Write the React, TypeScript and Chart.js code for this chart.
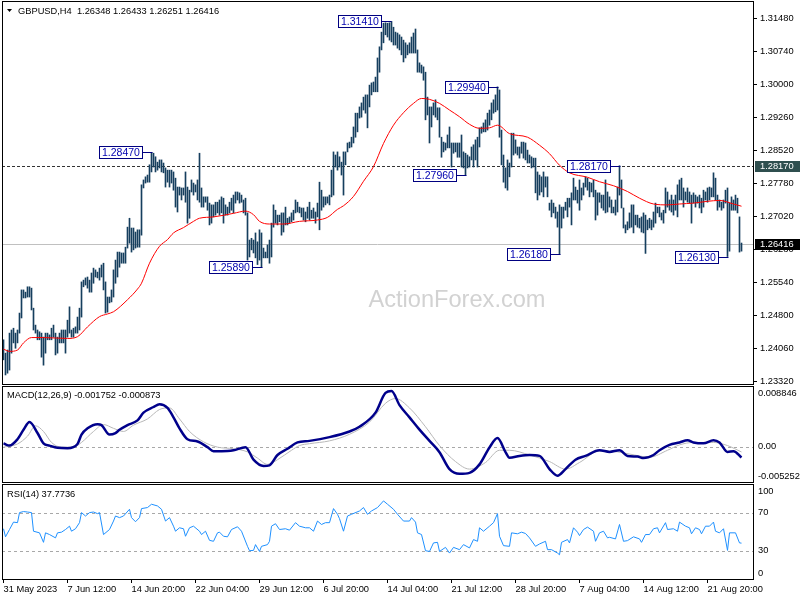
import React, { useEffect, useRef } from 'react';
import { Chart, registerables } from 'chart.js';

Chart.register(...registerables);

// ---------- DATA ----------
const SYMBOL_TITLE = 'GBPUSD,H4';
const LAST_OHLC = [1.26348, 1.26433, 1.26251, 1.26416];

const HIGHS = [
  1.2426, 1.2396, 1.2403, 1.2441, 1.2448, 1.2452, 1.2441, 1.2448, 1.2486, 1.2538,
  1.2538, 1.2533, 1.2545, 1.2545, 1.2542, 1.2497, 1.2459, 1.2448, 1.2444, 1.2441,
  1.2432, 1.2441, 1.2441, 1.2437, 1.2452, 1.2459, 1.2441, 1.2432, 1.2441, 1.2448,
  1.2448, 1.2448, 1.2470, 1.2500, 1.2448, 1.2452, 1.2455, 1.2477, 1.2497, 1.2556,
  1.2560, 1.2565, 1.2567, 1.2560, 1.2576, 1.2587, 1.2583, 1.2578, 1.2587, 1.2594,
  1.2598, 1.2556, 1.2522, 1.2522, 1.2538, 1.2583, 1.2605, 1.2623, 1.2623, 1.2621,
  1.2621, 1.2634, 1.2679, 1.2699, 1.2677, 1.2677, 1.2668, 1.2673, 1.2673, 1.2774,
  1.2785, 1.2792, 1.2796, 1.2819, 1.2847, 1.2845, 1.2837, 1.2825, 1.2830, 1.2830,
  1.2823, 1.2812, 1.2807, 1.2807, 1.2807, 1.2803, 1.2789, 1.2769, 1.2769, 1.2767,
  1.2767, 1.2803, 1.2769, 1.2762, 1.2785, 1.2778, 1.2774, 1.2785, 1.2845, 1.2767,
  1.2747, 1.2747, 1.2747, 1.2733, 1.2729, 1.2729, 1.2735, 1.2735, 1.2740, 1.2747,
  1.2744, 1.2729, 1.2724, 1.2735, 1.2744, 1.2751, 1.2758, 1.2758, 1.2756, 1.2751,
  1.2740, 1.2744, 1.2711, 1.2650, 1.2654, 1.2650, 1.2666, 1.2646, 1.2673, 1.2666,
  1.2632, 1.2623, 1.2639, 1.2650, 1.2688, 1.2729, 1.2717, 1.2706, 1.2706, 1.2711,
  1.2711, 1.2724, 1.2699, 1.2702, 1.2711, 1.2717, 1.2740, 1.2735, 1.2724, 1.2722,
  1.2722, 1.2713, 1.2724, 1.2735, 1.2717, 1.2722, 1.2713, 1.2733, 1.2780, 1.2762,
  1.2747, 1.2747, 1.2747, 1.2751, 1.2807, 1.2848, 1.2841, 1.2848, 1.2837, 1.2825,
  1.2848, 1.2848, 1.2868, 1.2870, 1.2881, 1.2904, 1.2935, 1.2935, 1.2949, 1.2958,
  1.2971, 1.2976, 1.2976, 1.2998, 1.3003, 1.3005, 1.3016, 1.3059, 1.3084, 1.3117,
  1.3137, 1.3138, 1.3137, 1.3138, 1.3141, 1.3128, 1.3117, 1.3115, 1.3111, 1.3106,
  1.3099, 1.3093, 1.3088, 1.3093, 1.3106, 1.3115, 1.3124, 1.3077, 1.3048, 1.3043,
  1.3039, 1.3027, 1.2971, 1.2949, 1.2949, 1.2958, 1.2965, 1.2947, 1.2947, 1.2881,
  1.2870, 1.2868, 1.2886, 1.2904, 1.2868, 1.2868, 1.2868, 1.2868, 1.2868, 1.2886,
  1.2848, 1.2845, 1.2841, 1.2837, 1.2859, 1.2864, 1.2875, 1.2881, 1.2902, 1.2904,
  1.2913, 1.2920, 1.2935, 1.2942, 1.2958, 1.2965, 1.2976, 1.2994, 1.2987, 1.2897,
  1.2841, 1.2812, 1.2830, 1.2823, 1.2890, 1.2890, 1.2875, 1.2859, 1.2859, 1.2870,
  1.2870, 1.2868, 1.2852, 1.2841, 1.2837, 1.2834, 1.2834, 1.2803, 1.2796, 1.2792,
  1.2803, 1.2792, 1.2792, 1.2733, 1.2740, 1.2733, 1.2724, 1.2713, 1.2729, 1.2724,
  1.2724, 1.2735, 1.2744, 1.2744, 1.2756, 1.2789, 1.2769, 1.2762, 1.2785, 1.2767,
  1.2778, 1.2792, 1.2789, 1.2780, 1.2778, 1.2785, 1.2762, 1.2756, 1.2756, 1.2751,
  1.2751, 1.2785, 1.2758, 1.2747, 1.2740, 1.2724, 1.2740, 1.2769, 1.2817, 1.2785,
  1.2722, 1.2684, 1.2691, 1.2711, 1.2729, 1.2729, 1.2706, 1.2706, 1.2699, 1.2702,
  1.2711, 1.2706, 1.2695, 1.2699, 1.2695, 1.2713, 1.2733, 1.2724, 1.2724, 1.2711,
  1.2717, 1.2767, 1.2758, 1.2740, 1.2751, 1.2740, 1.2751, 1.2774, 1.2785, 1.2789,
  1.2767, 1.2758, 1.2767, 1.2758, 1.2751, 1.2756, 1.2751, 1.2747, 1.2751, 1.2744,
  1.2762, 1.2758, 1.2767, 1.2769, 1.2767, 1.2801, 1.2789, 1.2751, 1.2740, 1.2735,
  1.2740, 1.2762, 1.2767, 1.2733, 1.2747, 1.2740, 1.2751, 1.2744, 1.2702, 1.26433,
];

const LOWS = [
  1.2381, 1.2347, 1.2351, 1.2358, 1.2396, 1.2419, 1.2407, 1.2419, 1.2441, 1.2475,
  1.2520, 1.2520, 1.2522, 1.2522, 1.2493, 1.2448, 1.2441, 1.2426, 1.2426, 1.2387,
  1.2369, 1.2396, 1.2426, 1.2426, 1.2426, 1.2432, 1.2392, 1.2396, 1.2419, 1.2419,
  1.2419, 1.2396, 1.2432, 1.2441, 1.2432, 1.2432, 1.2441, 1.2441, 1.2448, 1.2477,
  1.2545, 1.2549, 1.2542, 1.2533, 1.2533, 1.2553, 1.2567, 1.2565, 1.2560, 1.2567,
  1.2538, 1.2486, 1.2488, 1.2509, 1.2511, 1.2522, 1.2553, 1.2567, 1.2589, 1.2598,
  1.2598, 1.2598, 1.2632, 1.2643, 1.2623, 1.2628, 1.2632, 1.2634, 1.2634, 1.2661,
  1.2767, 1.2778, 1.2780, 1.2780, 1.2803, 1.2814, 1.2803, 1.2807, 1.2812, 1.2803,
  1.2801, 1.2769, 1.2780, 1.2769, 1.2778, 1.2762, 1.2724, 1.2713, 1.2751, 1.2740,
  1.2751, 1.2735, 1.2688, 1.2699, 1.2758, 1.2751, 1.2758, 1.2740, 1.2735, 1.2724,
  1.2724, 1.2735, 1.2717, 1.2684, 1.2688, 1.2702, 1.2706, 1.2711, 1.2706, 1.2711,
  1.2688, 1.2706, 1.2706, 1.2711, 1.2717, 1.2711, 1.2733, 1.2740, 1.2733, 1.2735,
  1.2711, 1.2706, 1.2605, 1.2612, 1.2628, 1.2621, 1.2610, 1.2595, 1.2605, 1.2589,
  1.2610, 1.2610, 1.2610, 1.2598, 1.2612, 1.2679, 1.2688, 1.2684, 1.2691, 1.2661,
  1.2668, 1.2684, 1.2684, 1.2688, 1.2691, 1.2695, 1.2711, 1.2713, 1.2711, 1.2702,
  1.2695, 1.2691, 1.2699, 1.2695, 1.2699, 1.2699, 1.2688, 1.2702, 1.2673, 1.2717,
  1.2724, 1.2729, 1.2733, 1.2729, 1.2747, 1.2751, 1.2814, 1.2807, 1.2814, 1.2796,
  1.2751, 1.2819, 1.2848, 1.2857, 1.2859, 1.2868, 1.2881, 1.2893, 1.2924, 1.2926,
  1.2942, 1.2935, 1.2902, 1.2949, 1.2976, 1.2983, 1.2983, 1.2983, 1.3027, 1.3077,
  1.3093, 1.3111, 1.3106, 1.3099, 1.3095, 1.3088, 1.3088, 1.3081, 1.3077, 1.3066,
  1.3050, 1.3059, 1.3066, 1.3070, 1.3070, 1.3070, 1.3070, 1.3027, 1.3027, 1.3025,
  1.3009, 1.2920, 1.2931, 1.2868, 1.2904, 1.2931, 1.2926, 1.2920, 1.2881, 1.2836,
  1.2848, 1.2852, 1.2857, 1.2857, 1.2814, 1.2845, 1.2848, 1.2836, 1.2836, 1.2814,
  1.2812, 1.2796, 1.2812, 1.2814, 1.2830, 1.2814, 1.2830, 1.2814, 1.2859, 1.2890,
  1.2893, 1.2893, 1.2897, 1.2908, 1.2920, 1.2935, 1.2938, 1.2942, 1.2881, 1.2819,
  1.2780, 1.2767, 1.2762, 1.2792, 1.2814, 1.2841, 1.2845, 1.2841, 1.2834, 1.2845,
  1.2834, 1.2830, 1.2823, 1.2823, 1.2812, 1.2814, 1.2756, 1.2740, 1.2751, 1.2758,
  1.2747, 1.2769, 1.2747, 1.2717, 1.2702, 1.2711, 1.2699, 1.2679, 1.2618, 1.2677,
  1.2699, 1.2717, 1.2702, 1.2724, 1.2684, 1.2740, 1.2740, 1.2733, 1.2717, 1.2740,
  1.2751, 1.2769, 1.2762, 1.2747, 1.2758, 1.2747, 1.2695, 1.2706, 1.2735, 1.2722,
  1.2717, 1.2711, 1.2713, 1.2724, 1.2711, 1.2711, 1.2706, 1.2713, 1.2751, 1.2722,
  1.2677, 1.2666, 1.2673, 1.2677, 1.2679, 1.2666, 1.2684, 1.2679, 1.2677, 1.2668,
  1.2666, 1.2620, 1.2673, 1.2677, 1.2673, 1.2679, 1.2688, 1.2711, 1.2702, 1.2695,
  1.2688, 1.2711, 1.2724, 1.2717, 1.2713, 1.2706, 1.2717, 1.2702, 1.2740, 1.2740,
  1.2724, 1.2740, 1.2735, 1.2733, 1.2688, 1.2733, 1.2724, 1.2733, 1.2722, 1.2711,
  1.2724, 1.2740, 1.2735, 1.2740, 1.2747, 1.2747, 1.2740, 1.2717, 1.2724, 1.2717,
  1.2722, 1.2733, 1.2613, 1.2625, 1.2717, 1.2717, 1.2717, 1.2711, 1.2623, 1.26251,
];

// Moving average
const MA_BARS = [0, 3, 7, 10, 14, 20, 32, 37, 42, 48, 52, 55, 62, 67, 69, 73, 78, 82, 85, 90,
  95, 98, 105, 115, 121, 125, 128, 133, 140, 148, 157, 162, 167, 170, 175, 180, 185, 190, 195, 200,
  205, 209, 213, 218, 223, 228, 233, 238, 243, 247, 253, 262, 268, 273, 278, 283, 292, 298, 305, 312,
  318, 325, 332, 338, 345, 352, 358, 365, 369];
const MA_VALUES = [1.2405, 1.2400, 1.2403, 1.2419, 1.2431, 1.2431, 1.2429, 1.2433, 1.2455, 1.2478,
  1.2484, 1.2489, 1.2516, 1.2540, 1.2553, 1.2598, 1.2636, 1.2651, 1.2666, 1.2678,
  1.2692, 1.2699, 1.2702, 1.2710, 1.2715, 1.2707, 1.2692, 1.2686, 1.2686, 1.2692,
  1.2695, 1.2701, 1.2719, 1.2727, 1.2748, 1.2782, 1.2815, 1.2867, 1.2908, 1.2936,
  1.2957, 1.2968, 1.2966, 1.2957, 1.2942, 1.2927, 1.2910, 1.2901, 1.2902, 1.2908,
  1.2889, 1.2881, 1.2863, 1.2844, 1.2818, 1.2801, 1.2791, 1.2781, 1.2772, 1.2759,
  1.2744, 1.2731, 1.2729, 1.2731, 1.2733, 1.2737, 1.2739, 1.2731, 1.2726];

// MACD(12,26,9)
const MACD_BARS = [0, 3, 7, 10, 13, 17, 20, 23, 27, 32, 37, 39, 42, 47, 49, 53, 56, 58, 62, 67,
  70, 75, 78, 82, 85, 88, 92, 97, 102, 105, 112, 115, 121, 125, 130, 133, 137, 142, 147, 153,
  163, 173, 178, 186, 191, 194, 198, 203, 208, 213, 218, 223, 228, 233, 238, 243, 247, 251, 253, 258,
  263, 268, 273, 277, 281, 286, 291, 298, 303, 308, 312, 317, 320, 325, 328, 333, 338, 342, 345, 350,
  355, 358, 362, 365, 369];
const MACD_VALUES = [0.00050, 0.00015, 0.00116, 0.00266, 0.00390, 0.00215, 0.00050, 0.00015, -0.00020, -0.00026,
  0.00041, 0.00191, 0.00290, 0.00356, 0.00341, 0.00191, 0.00215, 0.00266, 0.00341, 0.00416,
  0.00540, 0.00630, 0.00675, 0.00615, 0.00465, 0.00290, 0.00116, 0.00080, -0.00010, -0.00075,
  -0.00071, -0.00060, -0.00010, -0.00210, -0.00311, -0.00300, -0.00135, -0.00035, 0.00065, 0.00090,
  0.00150, 0.00240, 0.00315, 0.00540, 0.00855, 0.008846, 0.00660, 0.00465, 0.00270, 0.00090,
  -0.00090, -0.00360, -0.00435, -0.00420, -0.00285, -0.00015, 0.00135, -0.00090, -0.00180, -0.00150,
  -0.00135, -0.00150, -0.00360, -0.00465, -0.00360, -0.00210, -0.00150, -0.00060, -0.00086, -0.00060,
  -0.00150, -0.00161, -0.00185, -0.00135, -0.00060, 0.00026, 0.00065, 0.00101, 0.00065, 0.00050,
  0.00101, 0.00065, -0.00086, -0.00075, -0.001752];
const SIGNAL_BARS = [0, 7, 12, 16, 20, 24, 29, 35, 39, 45, 50, 55, 60, 65, 72, 78, 83, 88, 93, 100,
  107, 115, 122, 127, 132, 137, 144, 148, 153, 163, 173, 183, 191, 196, 203, 211, 218, 226, 233, 241,
  248, 253, 263, 273, 281, 288, 298, 307, 313, 323, 332, 338, 345, 355, 362, 369];
const SIGNAL_VALUES = [-0.00010, 0.00041, 0.00165, 0.00330, 0.00240, 0.00065, -0.00010, -0.00010, 0.00065, 0.00240,
  0.00350, 0.00290, 0.00240, 0.00341, 0.00440, 0.00590, 0.00615, 0.00440, 0.00240, 0.00075,
  -0.00010, -0.00035, -0.00086, -0.00185, -0.00285, -0.00210, -0.00060, 0.00015, 0.00045, 0.00090,
  0.00195, 0.00390, 0.00690, 0.00765, 0.00615, 0.00315, 0.00015, -0.00240, -0.00360, -0.00255,
  -0.00060, -0.00060, -0.00135, -0.00240, -0.00360, -0.00255, -0.00070, -0.00086, -0.00120, -0.00170,
  -0.00060, 0.00026, 0.00065, 0.00065, 0.00015, -0.000873];
const MACD_AXIS_MAX = 0.00965;
const MACD_AXIS_MIN = -0.00566;
const MACD_AXIS_VALUES = [0.008846, 0, -0.005252];
const MACD_AXIS_LABELS = ['0.008846', '0.00', '-0.005252'];

// RSI(14)
const RSI_BARS = [0, 1, 3, 5, 7, 8, 10, 12, 14, 15, 18, 20, 21, 23, 26, 27, 29, 31, 33, 34,
  36, 38, 39, 41, 43, 45, 47, 48, 50, 53, 55, 56, 58, 60, 63, 64, 66, 68, 69, 72,
  74, 77, 79, 81, 83, 85, 86, 88, 90, 91, 93, 95, 98, 99, 101, 103, 105, 107, 108, 110,
  112, 114, 117, 119, 122, 123, 125, 126, 128, 129, 132, 133, 134, 136, 138, 141, 143, 146, 148, 151,
  153, 155, 157, 159, 161, 163, 165, 167, 168, 170, 172, 174, 178, 180, 182, 184, 187, 190, 192, 195,
  197, 200, 203, 204, 206, 207, 209, 211, 213, 215, 217, 218, 221, 223, 225, 228, 230, 233, 235, 237,
  238, 240, 243, 245, 247, 248, 250, 253, 254, 257, 259, 261, 263, 266, 268, 271, 272, 274, 277, 278,
  279, 282, 283, 285, 287, 288, 290, 292, 295, 296, 298, 300, 302, 303, 306, 308, 310, 312, 315, 318,
  319, 321, 323, 325, 327, 328, 331, 332, 335, 337, 338, 341, 343, 344, 346, 348, 349, 351, 353, 355,
  356, 358, 360, 362, 363, 366, 368, 369];
const RSI_VALUES = [52.9, 44.4, 52.1, 59.9, 59.3, 69.9, 71, 70.5, 69.9, 50.3, 48.6, 38.6, 48.6, 46.8, 43.3, 48.6, 49.3, 52.1, 55.6, 50.3,
  52.9, 59.3, 69.9, 66.3, 69.9, 70.5, 68.8, 69.9, 46.8, 52.1, 61, 66.3, 64.6, 66.3, 73.4, 64.6, 60.3, 64.6, 74.1, 75.2,
  78.7, 76.9, 73.4, 61, 64.6, 55.6, 50.3, 53.9, 52.9, 45, 53.9, 55.6, 50.3, 46.8, 50.3, 40.7, 39.7, 48.6, 49.3, 45,
  44.4, 52.1, 55, 50.3, 34.4, 29.8, 30.1, 36.2, 29, 34.4, 36.2, 39.7, 55.6, 58.2, 52.1, 52.9, 51.4, 59.3, 55.6, 53.9,
  53.9, 50.3, 61, 57.4, 59.3, 59.3, 74.1, 68.1, 63.5, 50.3, 66.3, 68.1, 71.6, 75.2, 68.1, 71.6, 75.2, 82.2, 78.7, 73.4,
  68.1, 61, 61, 64.6, 59.9, 48.6, 46.8, 29.8, 29, 38, 38.6, 29, 33.3, 27.3, 33.3, 30.9, 36.2, 32.7, 41.5, 39.7,
  53.9, 50.3, 55.6, 59.3, 68.8, 45, 35.1, 34.4, 48.6, 47.6, 49.3, 47.9, 43.3, 34.4, 36.9, 39.7, 30.9, 30.9, 27.3, 25.5,
  38.6, 41.5, 38, 53.9, 49.3, 45.7, 52.1, 54.6, 50.3, 39.7, 48.6, 50.3, 43.3, 43.9, 42.2, 57.4, 39.7, 40.4, 44.4, 42.2,
  38.6, 46.8, 46.8, 52.9, 53.9, 48.6, 59.3, 52.1, 52.9, 50.3, 59.9, 55.6, 53.9, 47.6, 53.9, 52.1, 47.6, 55.6, 55.6, 59.9,
  50.3, 48.6, 52.9, 30.1, 48.6, 48.6, 38, 37.7736];
const RSI_LEVELS = [70, 30];
const RSI_AXIS_VALUES = [100, 70, 30, 0];

// Axis ticks
const PRICE_TICKS = [1.3148, 1.3074, 1.3, 1.2926, 1.2852, 1.2778, 1.2702, 1.2628, 1.2554, 1.248, 1.2406, 1.2332];
const PRICE_MIN = 1.23267;
const PRICE_MAX = 1.31869;
const X_TICK_BARS = [0, 32, 64, 96, 128, 160, 192, 224, 256, 288, 320, 352];
const X_TICK_LABELS = ['31 May 2023', '7 Jun 12:00', '14 Jun 20:00', '22 Jun 04:00', '29 Jun 12:00', '6 Jul 20:00',
  '14 Jul 04:00', '21 Jul 12:00', '28 Jul 20:00', '7 Aug 04:00', '14 Aug 12:00', '21 Aug 20:00'];

// Swing labels and levels
const SWING_BARS = [74, 129, 194, 231, 247, 278, 308, 362];
const SWING_PRICES = [1.2847, 1.2589, 1.3141, 1.2796, 1.2994, 1.2618, 1.2817, 1.2613];
const LEVEL_PRICE = 1.2817;
const BID_PRICE = 1.26416;

// ---------- STYLE ----------
const FONT = '"Liberation Sans", Arial, sans-serif';
const BAR_COLOR = '#163f5e';
const X_MIN = -0.75;
const X_MAX = 374.75;

function drawBorder(chart: any) {
  const { ctx, chartArea: a } = chart;
  ctx.save();
  ctx.strokeStyle = '#000';
  ctx.lineWidth = 1;
  ctx.setLineDash([]);
  ctx.strokeRect(a.left + 0.5, a.top + 0.5, a.right - a.left, a.bottom - a.top);
  ctx.restore();
}

function hLine(chart: any, value: number, color: string, dash: number[]) {
  const { ctx, chartArea: a, scales } = chart;
  const y = Math.round(scales.y.getPixelForValue(value)) + 0.5;
  ctx.save();
  ctx.strokeStyle = color;
  ctx.lineWidth = 1;
  ctx.setLineDash(dash);
  ctx.beginPath();
  ctx.moveTo(a.left, y);
  ctx.lineTo(a.right, y);
  ctx.stroke();
  ctx.restore();
}

function sideLabels(chart: any, values: number[], labels: string[]) {
  const { ctx, chartArea: a, scales } = chart;
  ctx.save();
  ctx.font = `9.3px ${FONT}`;
  ctx.fillStyle = '#000';
  ctx.textAlign = 'left';
  ctx.textBaseline = 'middle';
  values.forEach((v, k) => {
    let y = scales.y.getPixelForValue(v);
    y = Math.max(a.top + 7, Math.min(a.bottom - 6, y));
    ctx.fillText(labels[k], a.right + 5, y);
  });
  ctx.restore();
}

const noScalePadding = (s: any) => {
  s.paddingTop = 0;
  s.paddingBottom = 0;
  s.paddingLeft = 0;
  s.paddingRight = 0;
};

const mainPlugin = {
  id: 'mainDecor',
  beforeDatasetsDraw(chart: any) {
    const { ctx } = chart;
    ctx.save();
    ctx.font = `23.6px ${FONT}`;
    ctx.fillStyle = '#d2d2d2';
    ctx.textAlign = 'center';
    ctx.textBaseline = 'alphabetic';
    ctx.fillText('ActionForex.com', 457, 307);
    ctx.restore();
    hLine(chart, BID_PRICE, '#c0c0c0', []);
    hLine(chart, LEVEL_PRICE, '#333333', [3, 2]);
  },
  afterDatasetsDraw(chart: any) {
    const { ctx, scales } = chart;
    ctx.save();
    ctx.font = `10.5px ${FONT}`;
    ctx.textAlign = 'left';
    ctx.textBaseline = 'middle';
    SWING_BARS.forEach((b, k) => {
      const price = SWING_PRICES[k];
      const text = price.toFixed(5);
      const px = Math.round(scales.x.getPixelForValue(b)) + 0.5;
      const py = Math.round(scales.y.getPixelForValue(price)) + 0.5;
      const w = Math.round(ctx.measureText(text).width) + 5;
      const h = 12;
      const right = px - 10;
      const left = right - w;
      ctx.fillStyle = '#fff';
      ctx.fillRect(left, py - h / 2, w, h);
      ctx.strokeStyle = '#000080';
      ctx.lineWidth = 1;
      ctx.strokeRect(left, py - h / 2, w, h);
      ctx.beginPath();
      ctx.moveTo(right, py);
      ctx.lineTo(px, py);
      ctx.stroke();
      ctx.fillStyle = '#0000b0';
      ctx.fillText(text, left + 2.5, py + 0.5);
    });
    ctx.restore();
  },
  afterDraw(chart: any) {
    drawBorder(chart);
    const { ctx, chartArea: a, scales } = chart;
    ctx.save();
    ctx.font = `9.3px ${FONT}`;
    ctx.textAlign = 'left';
    ctx.textBaseline = 'middle';
    const boxes: [number, string][] = [[LEVEL_PRICE, '#2f4f4f'], [BID_PRICE, '#000000']];
    boxes.forEach(([p, bg]) => {
      const y = scales.y.getPixelForValue(p);
      ctx.fillStyle = bg;
      ctx.fillRect(a.right + 2, Math.round(y) - 5, chart.width - a.right - 2, 11);
      ctx.fillStyle = '#fff';
      ctx.fillText(p.toFixed(5), a.right + 7, Math.round(y) + 0.5);
    });
    // title
    ctx.fillStyle = '#000';
    ctx.beginPath();
    ctx.moveTo(7, 9);
    ctx.lineTo(12, 9);
    ctx.lineTo(9.5, 12);
    ctx.closePath();
    ctx.fill();
    ctx.fillText(`${SYMBOL_TITLE}  ${LAST_OHLC.map((v) => v.toFixed(5)).join(' ')}`, 18, 11);
    ctx.restore();
  },
};

const macdPlugin = {
  id: 'macdDecor',
  beforeDatasetsDraw(chart: any) {
    hLine(chart, 0, '#a8a8a8', [3, 3]);
  },
  afterDraw(chart: any) {
    drawBorder(chart);
    sideLabels(chart, MACD_AXIS_VALUES, MACD_AXIS_LABELS);
    const { ctx, chartArea: a } = chart;
    ctx.save();
    ctx.font = `9.3px ${FONT}`;
    ctx.fillStyle = '#000';
    ctx.textBaseline = 'middle';
    ctx.fillText(`MACD(12,26,9) ${MACD_VALUES[MACD_VALUES.length - 1].toFixed(6)} ${SIGNAL_VALUES[SIGNAL_VALUES.length - 1].toFixed(6)}`, a.left + 5, a.top + 9);
    ctx.restore();
  },
};

const rsiPlugin = {
  id: 'rsiDecor',
  beforeDatasetsDraw(chart: any) {
    RSI_LEVELS.forEach((l) => hLine(chart, l, '#a8a8a8', [3, 3]));
  },
  afterDraw(chart: any) {
    drawBorder(chart);
    sideLabels(chart, RSI_AXIS_VALUES, RSI_AXIS_VALUES.map(String));
    const { ctx, chartArea: a } = chart;
    ctx.save();
    ctx.font = `9.3px ${FONT}`;
    ctx.fillStyle = '#000';
    ctx.textBaseline = 'middle';
    ctx.fillText(`RSI(14) ${RSI_VALUES[RSI_VALUES.length - 1].toFixed(4)}`, a.left + 5, a.top + 10);
    ctx.restore();
  },
};

const pts = (xs: number[], ys: number[]) => xs.map((x, k) => ({ x, y: ys[k] }));

const hiddenX = { type: 'linear', min: X_MIN, max: X_MAX, display: false, offset: false };

export default function App() {
  const mainRef = useRef<HTMLCanvasElement>(null);
  const macdRef = useRef<HTMLCanvasElement>(null);
  const rsiRef = useRef<HTMLCanvasElement>(null);

  useEffect(() => {
    Chart.defaults.font.family = FONT;
    const charts: Chart[] = [];

    charts.push(new Chart(mainRef.current as HTMLCanvasElement, {
      type: 'bar',
      data: {
        datasets: [
          {
            type: 'line',
            data: pts(MA_BARS, MA_VALUES),
            borderColor: '#ff0000',
            borderWidth: 1,
            pointRadius: 0,
            cubicInterpolationMode: 'monotone',
          } as any,
          {
            type: 'bar',
            data: HIGHS.map((h, i) => ({ x: i, y: [LOWS[i], h] })),
            backgroundColor: BAR_COLOR,
            borderWidth: 0,
            barThickness: 1,
          } as any,
        ],
      },
      options: {
        animation: false,
        responsive: false,
        maintainAspectRatio: false,
        events: [],
        layout: { padding: { left: 2, top: 1, right: 0, bottom: 2 }, autoPadding: false } as any,
        plugins: { legend: { display: false }, tooltip: { enabled: false } },
        scales: {
          x: hiddenX as any,
          y: {
            position: 'right',
            min: PRICE_MIN,
            max: PRICE_MAX,
            afterFit: (s: any) => { s.width = 47; noScalePadding(s); },
            afterBuildTicks: (s: any) => { s.ticks = PRICE_TICKS.map((v) => ({ value: v })); },
            ticks: {
              callback: (v: any) => Number(v).toFixed(5),
              font: { size: 9.3, family: FONT },
              color: '#000',
              padding: 3,
              autoSkip: false,
            },
            grid: { drawOnChartArea: false, drawTicks: true, tickLength: 4, color: '#000' },
            border: { display: false },
          } as any,
        },
      },
      plugins: [mainPlugin],
    }));

    charts.push(new Chart(macdRef.current as HTMLCanvasElement, {
      type: 'line',
      data: {
        datasets: [
          {
            data: pts(MACD_BARS, MACD_VALUES),
            borderColor: '#00008b',
            borderWidth: 2.5,
            pointRadius: 0,
            cubicInterpolationMode: 'monotone',
          } as any,
          {
            data: pts(SIGNAL_BARS, SIGNAL_VALUES),
            borderColor: '#b8b8b8',
            borderWidth: 1,
            pointRadius: 0,
            cubicInterpolationMode: 'monotone',
          } as any,
        ],
      },
      options: {
        animation: false,
        responsive: false,
        maintainAspectRatio: false,
        events: [],
        layout: { padding: { left: 2, top: 1, right: 47, bottom: 1 }, autoPadding: false } as any,
        plugins: { legend: { display: false }, tooltip: { enabled: false } },
        scales: {
          x: hiddenX as any,
          y: { min: MACD_AXIS_MIN, max: MACD_AXIS_MAX, display: false } as any,
        },
      },
      plugins: [macdPlugin],
    }));

    charts.push(new Chart(rsiRef.current as HTMLCanvasElement, {
      type: 'line',
      data: {
        datasets: [
          {
            data: pts(RSI_BARS, RSI_VALUES),
            borderColor: '#1e90ff',
            borderWidth: 1,
            pointRadius: 0,
          } as any,
        ],
      },
      options: {
        animation: false,
        responsive: false,
        maintainAspectRatio: false,
        events: [],
        layout: { padding: { left: 2, top: 1, right: 47, bottom: 0 }, autoPadding: false } as any,
        plugins: { legend: { display: false }, tooltip: { enabled: false } },
        scales: {
          x: {
            type: 'linear',
            min: X_MIN,
            max: X_MAX,
            offset: false,
            afterFit: (s: any) => { s.height = 21; noScalePadding(s); },
            afterBuildTicks: (s: any) => { s.ticks = X_TICK_BARS.map((v) => ({ value: v })); },
            ticks: {
              autoSkip: false,
              maxRotation: 0,
              minRotation: 0,
              align: 'start',
              padding: 1,
              color: '#000',
              font: { size: 9.3, family: FONT },
              callback: (v: any) => X_TICK_LABELS[X_TICK_BARS.indexOf(Number(v))],
            },
            grid: { drawOnChartArea: false, drawTicks: true, tickLength: 4, color: '#000' },
            border: { display: false },
          } as any,
          y: { min: 0, max: 100, display: false } as any,
        },
      },
      plugins: [rsiPlugin],
    }));

    return () => charts.forEach((c) => c.destroy());
  }, []);

  return (
    <div style={{ position: 'fixed', left: 0, top: 0, width: 800, height: 600, background: '#fff', overflow: 'hidden' }}>
      <canvas ref={mainRef} width={800} height={386} style={{ position: 'absolute', left: 0, top: 0 }} />
      <canvas ref={macdRef} width={800} height={98} style={{ position: 'absolute', left: 0, top: 385 }} />
      <canvas ref={rsiRef} width={800} height={117} style={{ position: 'absolute', left: 0, top: 483 }} />
    </div>
  );
}
